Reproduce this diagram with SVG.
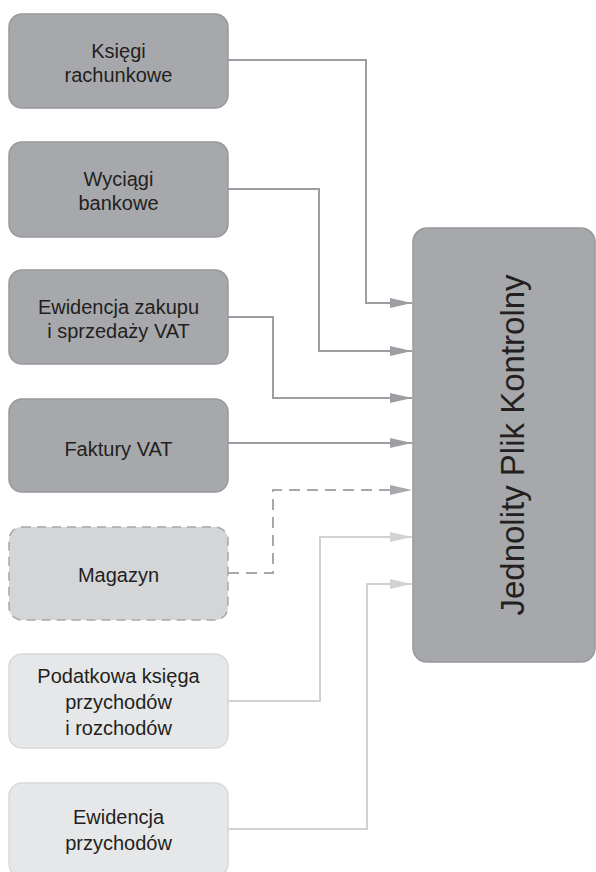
<svg xmlns="http://www.w3.org/2000/svg" width="596" height="872" viewBox="0 0 596 872">
<defs>
<style>
.dark{fill:#a7a8ab;stroke:#97989b;stroke-width:1.5}
.mag{fill:#d4d5d7;stroke:#a7a8ab;stroke-width:1.5;stroke-dasharray:9 6}
.light{fill:#e6e7e8;stroke:#d8d9db;stroke-width:1.5}
.lbl{font-family:"Liberation Sans",Arial,sans-serif;font-size:20px;fill:#231f20;text-anchor:middle}
.main{font-family:"Liberation Sans",Arial,sans-serif;font-size:33px;fill:#231f20;text-anchor:middle}
.c{fill:none;stroke-width:2}
.cd{stroke:#9d9ea1}
.cm{stroke:#a7a8ab;stroke-dasharray:11 7}
.cl{stroke:#d1d2d4}
</style>
<marker id="ad" markerWidth="22" markerHeight="10" refX="22" refY="5" orient="auto" markerUnits="userSpaceOnUse"><path d="M0,0 L22,5 L0,10 Z" fill="#9d9ea1"/></marker>
<marker id="am" markerWidth="22" markerHeight="10" refX="22" refY="5" orient="auto" markerUnits="userSpaceOnUse"><path d="M0,0 L22,5 L0,10 Z" fill="#a7a8ab"/></marker>
<marker id="al" markerWidth="22" markerHeight="10" refX="22" refY="5" orient="auto" markerUnits="userSpaceOnUse"><path d="M0,0 L22,5 L0,10 Z" fill="#d1d2d4"/></marker>
</defs>
<rect width="596" height="872" fill="#ffffff"/>
<g id="connectors">
<path class="c cd" d="M228,60 H366 V303 H412" marker-end="url(#ad)"/>
<path class="c cd" d="M228,189 H319 V351 H412" marker-end="url(#ad)"/>
<path class="c cd" d="M228,317 H273 V398 H412" marker-end="url(#ad)"/>
<path class="c cd" d="M228,443 H412" marker-end="url(#ad)"/>
<path class="c cm" d="M228,573 H273 V490 H412" marker-end="url(#am)"/>
<path class="c cl" d="M228,701 H320 V537 H412" marker-end="url(#al)"/>
<path class="c cl" d="M228,829 H367 V584 H412" marker-end="url(#al)"/>
</g>
<g id="ksiegi">
<rect class="dark" x="9" y="14" width="219" height="94" rx="13"/>
<text class="lbl" x="118.5" y="58">Księgi</text>
<text class="lbl" x="118.5" y="82">rachunkowe</text>
</g>
<g id="wyciagi">
<rect class="dark" x="9" y="142" width="219" height="95" rx="13"/>
<text class="lbl" x="118.5" y="186">Wyciągi</text>
<text class="lbl" x="118.5" y="210">bankowe</text>
</g>
<g id="ewidencja-vat">
<rect class="dark" x="9" y="270" width="219" height="94" rx="13"/>
<text class="lbl" x="118.5" y="314">Ewidencja zakupu</text>
<text class="lbl" x="118.5" y="338">i sprzedaży VAT</text>
</g>
<g id="faktury">
<rect class="dark" x="9" y="399" width="219" height="93" rx="13"/>
<text class="lbl" x="118.5" y="456">Faktury VAT</text>
</g>
<g id="magazyn">
<rect class="mag" x="9" y="527" width="219" height="93" rx="13"/>
<text class="lbl" x="118.5" y="582">Magazyn</text>
</g>
<g id="podatkowa">
<rect class="light" x="9" y="654" width="219" height="94" rx="13"/>
<text class="lbl" x="118.5" y="683">Podatkowa księga</text>
<text class="lbl" x="118.5" y="709">przychodów</text>
<text class="lbl" x="118.5" y="735">i rozchodów</text>
</g>
<g id="ewidencja-przychodow">
<rect class="light" x="9" y="783" width="219" height="94" rx="13"/>
<text class="lbl" x="118.5" y="824">Ewidencja</text>
<text class="lbl" x="118.5" y="850">przychodów</text>
</g>
<g id="jpk">
<rect class="dark" x="413" y="228" width="182" height="434" rx="14"/>
<text class="main" transform="translate(524,445) rotate(-90)">Jednolity Plik Kontrolny</text>
</g>
</svg>
